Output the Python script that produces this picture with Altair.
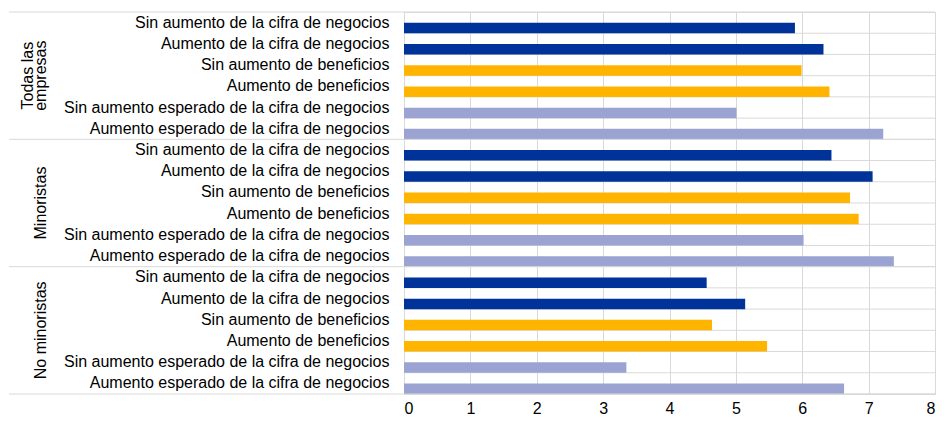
import altair as alt
import pandas as pd

groups = ["Todas las empresas", "Minoristas", "No minoristas"]
labels = [
    "Sin aumento de la cifra de negocios",
    "Aumento de la cifra de negocios",
    "Sin aumento de beneficios",
    "Aumento de beneficios",
    "Sin aumento esperado de la cifra de negocios",
    "Aumento esperado de la cifra de negocios",
]
colors = ["#003399", "#003399", "#FFB400", "#FFB400", "#9AA3D2", "#9AA3D2"]
values_todas = [5.89, 6.32, 5.99, 6.41, 5.01, 7.22]
values_min = [6.44, 7.06, 6.72, 6.85, 6.02, 7.38]
values_nomin = [4.56, 5.14, 4.64, 5.47, 3.35, 6.63]
x_ticks = [0, 1, 2, 3, 4, 5, 6, 7, 8]

all_values = [values_todas, values_min, values_nomin]
rows = []
keys = []
for gi, g in enumerate(groups):
    for li, lab in enumerate(labels):
        key = f"{g}|{lab}"
        keys.append(key)
        rows.append({"key": key, "value": all_values[gi][li], "color": colors[li]})
df = pd.DataFrame(rows)

W, H = 531, 382
FONT = "Liberation Sans"
GRID = "#d9d9d9"

yscale = alt.Scale(domain=keys, paddingInner=0, paddingOuter=0)

grid_df = pd.DataFrame({"key": keys})
hgrid = alt.Chart(grid_df).mark_rule(color=GRID, strokeWidth=1).encode(
    y=alt.Y("key:N", scale=yscale, sort=keys, bandPosition=1),
    x=alt.value(0), x2=alt.value(W),
)

bars = alt.Chart(df).mark_bar(size=10.5, yOffset=5.4).encode(
    x=alt.X("value:Q", scale=alt.Scale(domain=[0, 8], nice=False),
            axis=alt.Axis(values=x_ticks, title=None, grid=True, gridColor=GRID,
                          ticks=False, domain=False, labelFont=FONT, labelFontSize=16,
                          labelColor="#000000", labelPadding=6)),
    y=alt.Y("key:N", scale=yscale, sort=keys,
            axis=alt.Axis(title=None, labelExpr="split(datum.label, '|')[1]",
                          grid=False, ticks=False, domain=True, domainColor=GRID,
                          labelPadding=15, labelFont=FONT, labelFontSize=16,
                          labelColor="#000000", labelLimit=600)),
    color=alt.Color("color:N", scale=None),
)

sep_top = pd.DataFrame({"key": [keys[0], keys[6], keys[12]]})
sep_bottom = pd.DataFrame({"key": [keys[17]]})

rule_top = alt.Chart(sep_top).mark_rule(color=GRID, strokeWidth=1).encode(
    y=alt.Y("key:N", scale=yscale, sort=keys, bandPosition=0),
    x=alt.value(-395), x2=alt.value(W),
)
rule_bottom = alt.Chart(sep_bottom).mark_rule(color=GRID, strokeWidth=1).encode(
    y=alt.Y("key:N", scale=yscale, sort=keys, bandPosition=1),
    x=alt.value(-395), x2=alt.value(W),
)

# single-line group titles
titles1_df = pd.DataFrame({"key": [keys[8], keys[14]], "title": [groups[1], groups[2]]})
titles1 = alt.Chart(titles1_df).mark_text(
    angle=270, align="center", baseline="bottom",
    font=FONT, fontSize=16, color="#000000"
).encode(
    y=alt.Y("key:N", scale=yscale, sort=keys, bandPosition=1),
    x=alt.value(-355),
    text="title:N",
)
# two-line group title
titles2_df = pd.DataFrame({"key": [keys[2]], "title": ["Todas las\nempresas"]})
titles2 = alt.Chart(titles2_df).mark_text(
    angle=270, align="center", baseline="bottom", lineBreak="\n", lineHeight=13,
    font=FONT, fontSize=16, color="#000000"
).encode(
    y=alt.Y("key:N", scale=yscale, sort=keys, bandPosition=1),
    x=alt.value(-368),
    text="title:N",
)

chart = alt.layer(hgrid, bars, rule_top, rule_bottom, titles1, titles2).properties(
    width=W, height=H, padding={"left": 0, "top": 3, "right": 0, "bottom": 0}
).configure_view(stroke=GRID)

chart.save("out.html", embed_options={"renderer": "svg", "actions": False})
